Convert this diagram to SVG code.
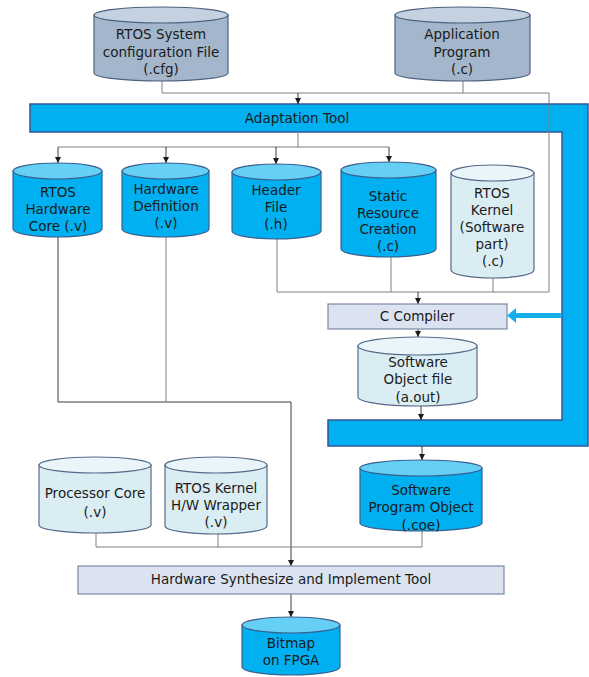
<svg xmlns="http://www.w3.org/2000/svg" width="589" height="677" viewBox="0 0 589 677">
  <style>
    text { font-family: "DejaVu Sans", "Liberation Sans", sans-serif; font-size: 13.5px; fill: #1a1a1a; text-anchor: middle; }
    .body-grey { fill: #a3b6cb; stroke: #4e6282; stroke-width: 1.2; }
    .top-grey { fill: #c3d1e0; stroke: #4e6282; stroke-width: 1.2; }
    .body-blue { fill: #00b0f0; stroke: #3a5f8f; stroke-width: 1.2; }
    .top-blue { fill: #66cff5; stroke: #3a5f8f; stroke-width: 1.2; }
    .body-light { fill: #daedf3; stroke: #56698a; stroke-width: 1.2; }
    .top-light { fill: #e9f5f9; stroke: #56698a; stroke-width: 1.2; }
    .box { fill: #dae3ef; stroke: #7a88a3; stroke-width: 1.2; }
    .tool { fill: #00b0f0; stroke: #2f5597; stroke-width: 1.5; }
    .wire { fill: none; stroke: #808080; stroke-width: 1; }
    .wire-dark { fill: none; stroke: #3c3c3c; stroke-width: 1; }
    .arrow { fill: none; stroke: #3c3c3c; stroke-width: 1; marker-end: url(#tip); }
  </style>
  <defs>
    <marker id="tip" markerUnits="userSpaceOnUse" markerWidth="6" markerHeight="6" refX="6" refY="3" orient="auto">
      <path d="M0,0 L6,3 L0,6 Z" fill="#1a1a1a"/>
    </marker>
  </defs>

  <!-- Adaptation tool: bracket-shaped band -->
  <g id="adaptation-tool">
    <polygon class="tool" points="30,104 588,104 588,446 328,446 328,420 562,420 562,132 30,132"/>
    <text x="297" y="123">Adaptation Tool</text>
  </g>

  <!-- Connectors -->
  <g id="connectors">
    <path class="wire" d="M162,81 V93 H549 V292"/>
    <path class="wire" d="M463,81 V93"/>
    <path class="arrow" d="M298,93 V104"/>

    <path class="wire" d="M298,132 V147"/>
    <path class="wire" d="M58,147 H389"/>
    <path class="arrow" d="M58,147 V163"/>
    <path class="arrow" d="M166,147 V163"/>
    <path class="arrow" d="M276,147 V164"/>
    <path class="arrow" d="M389,147 V162"/>

    <path class="wire" d="M277,239 V292 H549"/>
    <path class="wire" d="M391,257 V292"/>
    <path class="wire" d="M493,278 V292"/>
    <path class="arrow" d="M418,292 V304"/>
    <path class="arrow" d="M418,329 V337"/>
    <path class="arrow" d="M421,406 V420"/>
    <path class="arrow" d="M422,446 V460"/>

    <path class="wire-dark" d="M58,237 V402 H291"/>
    <path class="wire" d="M166,237 V402"/>
    <path class="arrow" d="M291,402 V566"/>
    <path class="wire" d="M96,533 V547 H422 V531"/>
    <path class="wire" d="M218,534 V547"/>
    <path class="arrow" d="M291,594 V617"/>

    <!-- feed from the adaptation band into the compiler -->
    <polygon points="562,313 516,313 516,308 507,315.5 516,323 516,318 562,318" fill="#14b0ec"/>
  </g>

  <g id="rtos-config">
    <path class="body-grey" d="M94,15 V73 A67,8 0 0 0 228,73 V15 Z"/>
    <ellipse class="top-grey" cx="161" cy="15" rx="67" ry="8"/>
    <text x="161" y="39">RTOS System</text>
    <text x="161" y="57">configuration File</text>
    <text x="161" y="74">(.cfg)</text>
  </g>

  <g id="application-program">
    <path class="body-grey" d="M395,15 V73 A67.5,8 0 0 0 530,73 V15 Z"/>
    <ellipse class="top-grey" cx="462.5" cy="15" rx="67.5" ry="8"/>
    <text x="462" y="39">Application</text>
    <text x="462" y="57">Program</text>
    <text x="462" y="74">(.c)</text>
  </g>

  <g id="rtos-hw-core">
    <path class="body-blue" d="M13,171 V229 A44.5,8 0 0 0 102,229 V171 Z"/>
    <ellipse class="top-blue" cx="57.5" cy="171" rx="44.5" ry="8"/>
    <text x="58" y="197">RTOS</text>
    <text x="58" y="214">Hardware</text>
    <text x="58" y="231">Core (.v)</text>
  </g>

  <g id="hw-definition">
    <path class="body-blue" d="M122,171 V229 A43.5,8 0 0 0 209,229 V171 Z"/>
    <ellipse class="top-blue" cx="165.5" cy="171" rx="43.5" ry="8"/>
    <text x="166" y="194">Hardware</text>
    <text x="166" y="211">Definition</text>
    <text x="166" y="228">(.v)</text>
  </g>

  <g id="header-file">
    <path class="body-blue" d="M232,172 V231 A44.5,8 0 0 0 321,231 V172 Z"/>
    <ellipse class="top-blue" cx="276.5" cy="172" rx="44.5" ry="8"/>
    <text x="276" y="195">Header</text>
    <text x="276" y="212">File</text>
    <text x="276" y="229">(.h)</text>
  </g>

  <g id="static-resource">
    <path class="body-blue" d="M341,170 V249 A47.5,8 0 0 0 436,249 V170 Z"/>
    <ellipse class="top-blue" cx="388.5" cy="170" rx="47.5" ry="8"/>
    <text x="388" y="201">Static</text>
    <text x="388" y="218">Resource</text>
    <text x="388" y="234">Creation</text>
    <text x="388" y="251">(.c)</text>
  </g>

  <g id="rtos-kernel-sw">
    <path class="body-light" d="M451,173 V270 A41.5,8 0 0 0 534,270 V173 Z"/>
    <ellipse class="top-light" cx="492.5" cy="173" rx="41.5" ry="8"/>
    <text x="492" y="198">RTOS</text>
    <text x="492" y="215">Kernel</text>
    <text x="492" y="232">(Software</text>
    <text x="492" y="249">part)</text>
    <text x="493" y="266">(.c)</text>
  </g>

  <g id="c-compiler">
    <rect class="box" x="328" y="304" width="179" height="25"/>
    <text x="417" y="321">C Compiler</text>
  </g>

  <g id="software-object">
    <path class="body-light" d="M358,346 V397 A59.5,9 0 0 0 477,397 V346 Z"/>
    <ellipse class="top-light" cx="417.5" cy="346" rx="59.5" ry="9"/>
    <text x="418" y="367">Software</text>
    <text x="418" y="384">Object file</text>
    <text x="418" y="402">(a.out)</text>
  </g>

  <g id="processor-core">
    <path class="body-light" d="M39,465 V525 A56,8 0 0 0 151,525 V465 Z"/>
    <ellipse class="top-light" cx="95" cy="465" rx="56" ry="8"/>
    <text x="95" y="498">Processor Core</text>
    <text x="95" y="517">(.v)</text>
  </g>

  <g id="kernel-wrapper">
    <path class="body-light" d="M165,465 V526 A51,8 0 0 0 267,526 V465 Z"/>
    <ellipse class="top-light" cx="216" cy="465" rx="51" ry="8"/>
    <text x="216" y="493">RTOS Kernel</text>
    <text x="216" y="510">H/W Wrapper</text>
    <text x="216" y="527">(.v)</text>
  </g>

  <g id="software-program-object">
    <path class="body-blue" d="M360,468 V523 A61,8 0 0 0 482,523 V468 Z"/>
    <ellipse class="top-blue" cx="421" cy="468" rx="61" ry="8"/>
    <text x="421" y="495">Software</text>
    <text x="421" y="512">Program Object</text>
    <text x="421" y="530">(.coe)</text>
  </g>

  <g id="hw-synthesize">
    <rect class="box" x="78" y="566" width="426" height="28"/>
    <text x="291" y="584">Hardware Synthesize and Implement Tool</text>
  </g>

  <g id="bitmap">
    <path class="body-blue" d="M242,625 V667 A49,8 0 0 0 340,667 V625 Z"/>
    <ellipse class="top-blue" cx="291" cy="625" rx="49" ry="8"/>
    <text x="291" y="648">Bitmap</text>
    <text x="291" y="665">on FPGA</text>
  </g>
</svg>
